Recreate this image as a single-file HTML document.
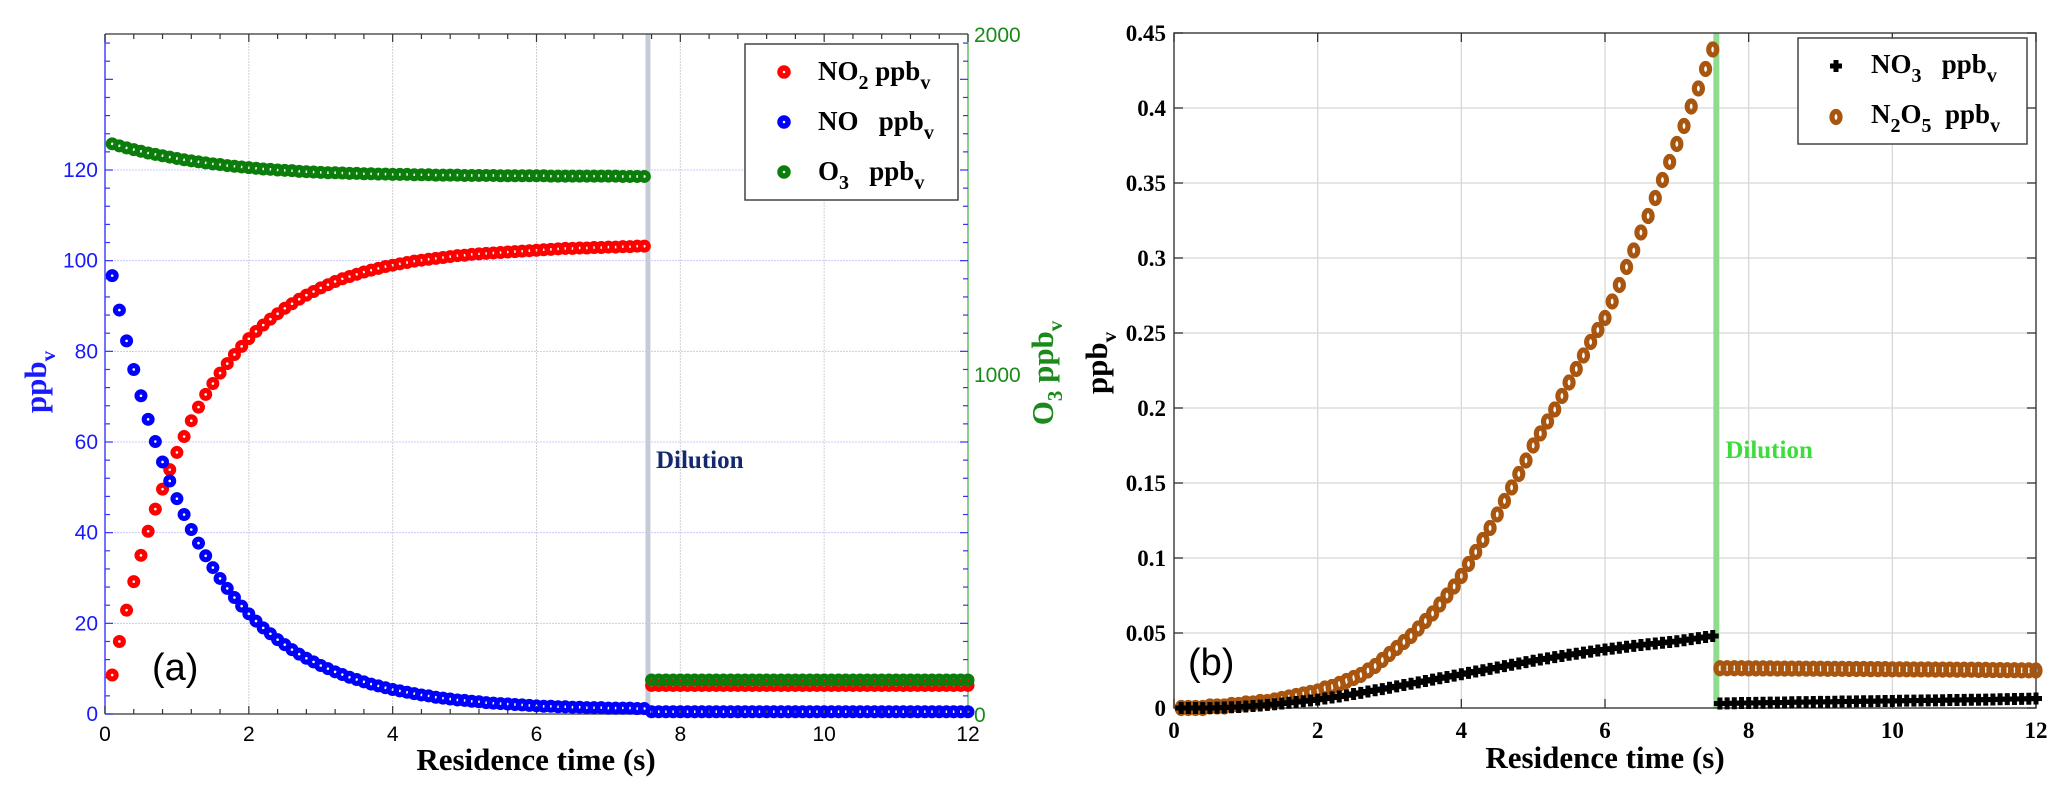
<!DOCTYPE html>
<html><head><meta charset="utf-8"><style>
html,body{margin:0;padding:0;background:#fff;}
svg{display:block;}
</style></head><body>
<svg id="fig" width="2067" height="796" xmlns="http://www.w3.org/2000/svg">
<g id="pa"></g>
<g id="pb"></g>
</svg>
<script>
// ---------- Panel (a) data ----------
const a_time_step = 0.1;
const a_no = [96.7,89.1,82.3,76.0,70.2,65.0,60.1,55.6,51.4,47.5,44.0,40.7,37.7,34.9,32.3,29.9,27.7,25.7,23.8,22.1,20.5,19.0,17.7,16.4,15.3,14.2,13.2,12.3,11.5,10.7,10.0,9.3,8.7,8.1,7.6,7.1,6.6,6.2,5.8,5.4,5.1,4.8,4.5,4.2,4.0,3.7,3.5,3.3,3.1,3.0,2.8,2.7,2.5,2.4,2.3,2.2,2.1,2.0,1.9,1.8,1.7,1.7,1.6,1.6,1.5,1.5,1.4,1.4,1.4,1.3,1.3,1.3,1.3,1.2,1.2];
const a_no2 = [8.6,16.0,22.9,29.2,35.0,40.3,45.2,49.6,53.9,57.7,61.2,64.7,67.7,70.5,72.9,75.2,77.3,79.3,81.1,82.8,84.4,85.8,87.1,88.3,89.5,90.5,91.5,92.4,93.2,94.0,94.7,95.4,96.0,96.5,97.0,97.5,97.9,98.3,98.7,99.0,99.3,99.6,99.9,100.1,100.3,100.5,100.7,100.9,101.1,101.2,101.4,101.5,101.6,101.7,101.8,101.9,102.0,102.1,102.2,102.3,102.4,102.5,102.6,102.7,102.7,102.8,102.8,102.9,102.9,103.0,103.0,103.1,103.1,103.2,103.2];
const a_o3 = [1677,1671,1665,1660,1655,1650,1646,1642,1638,1634,1630,1627,1624,1621,1618,1616,1613,1611,1609,1607,1605,1603,1602,1600,1599,1598,1596,1595,1594,1593,1592,1592,1591,1590,1590,1589,1589,1588,1588,1587,1587,1587,1586,1586,1586,1585,1585,1585,1585,1584,1584,1584,1584,1584,1583,1583,1583,1583,1583,1583,1583,1582,1582,1582,1582,1582,1582,1582,1582,1582,1582,1581,1581,1581,1581];
const a_post_start = 7.6;
const a_post_no2 = [6.3,6.3,6.3,6.3,6.3,6.3,6.3,6.3,6.3,6.3,6.3,6.3,6.3,6.3,6.3,6.3,6.3,6.3,6.3,6.3,6.3,6.3,6.3,6.3,6.3,6.3,6.3,6.3,6.3,6.3,6.3,6.3,6.3,6.3,6.3,6.3,6.3,6.3,6.3,6.3,6.3,6.3,6.3,6.3,6.3];
const a_post_no = [0.5,0.5,0.5,0.5,0.5,0.5,0.5,0.5,0.5,0.5,0.5,0.5,0.5,0.5,0.5,0.5,0.5,0.5,0.5,0.5,0.5,0.5,0.5,0.5,0.5,0.5,0.5,0.5,0.5,0.5,0.5,0.5,0.5,0.5,0.5,0.5,0.5,0.5,0.5,0.5,0.5,0.5,0.5,0.5,0.5];
const a_post_o3 = [100,100,100,100,100,100,100,100,100,100,100,100,100,100,100,100,100,100,100,100,100,100,100,100,100,100,100,100,100,100,100,100,100,100,100,100,100,100,100,100,100,100,100,100,100];
const a_xticks = [0,2,4,6,8,10,12];
const a_yticks = [0,20,40,60,80,100,120];
const a_y2ticks = [0,1000,2000];
const a_dilution = 7.55;

// ---------- Panel (b) data ----------
const b_time_step = 0.1;
const b_n2o5 = [0,0,0,0,0.001,0.001,0.001,0.002,0.002,0.003,0.003,0.004,0.004,0.005,0.006,0.007,0.008,0.009,0.010,0.011,0.013,0.014,0.016,0.018,0.020,0.022,0.025,0.028,0.032,0.036,0.040,0.044,0.048,0.053,0.058,0.063,0.069,0.075,0.081,0.088,0.096,0.104,0.112,0.120,0.129,0.138,0.147,0.156,0.165,0.175,0.183,0.191,0.199,0.208,0.217,0.226,0.235,0.244,0.252,0.260,0.271,0.282,0.294,0.305,0.317,0.328,0.340,0.352,0.364,0.376,0.388,0.401,0.413,0.426,0.439];
const b_no3 = [0,0,0,0,0,0.0002,0.0003,0.0005,0.0007,0.001,0.0013,0.0017,0.0021,0.0025,0.003,0.0035,0.004,0.0045,0.005,0.0056,0.0063,0.007,0.0077,0.0085,0.0093,0.0101,0.011,0.0118,0.0126,0.0135,0.0144,0.0153,0.0162,0.0171,0.018,0.0189,0.0198,0.0207,0.0216,0.0225,0.0234,0.0243,0.0252,0.0261,0.027,0.0279,0.0288,0.0297,0.0306,0.0315,0.0323,0.0331,0.0339,0.0347,0.0355,0.0362,0.0369,0.0376,0.0383,0.039,0.0396,0.0402,0.0408,0.0414,0.042,0.0425,0.043,0.0435,0.044,0.0445,0.0452,0.0459,0.0466,0.0473,0.048];
const b_post_start = 7.6;
const b_post_n2o5 = [0.0265,0.0265,0.0265,0.0265,0.0264,0.0264,0.0264,0.0264,0.0263,0.0263,0.0263,0.0263,0.0262,0.0262,0.0262,0.0261,0.0261,0.0261,0.0260,0.0260,0.0260,0.0259,0.0259,0.0259,0.0258,0.0258,0.0258,0.0257,0.0257,0.0257,0.0256,0.0256,0.0256,0.0255,0.0255,0.0255,0.0254,0.0254,0.0253,0.0253,0.0252,0.0252,0.0251,0.0251,0.0250];
const b_post_no3 = [0.0030,0.0031,0.0032,0.0033,0.0033,0.0034,0.0035,0.0036,0.0036,0.0037,0.0038,0.0039,0.0039,0.0040,0.0041,0.0041,0.0042,0.0043,0.0043,0.0044,0.0045,0.0045,0.0046,0.0047,0.0047,0.0048,0.0049,0.0049,0.0050,0.0051,0.0051,0.0052,0.0053,0.0053,0.0054,0.0055,0.0055,0.0056,0.0057,0.0058,0.0059,0.0060,0.0061,0.0062,0.0063];
const b_xticks = [0,2,4,6,8,10,12];
const b_yticks = [0,0.05,0.1,0.15,0.2,0.25,0.3,0.35,0.4,0.45];
const b_dilution = 7.55;

const NS = 'http://www.w3.org/2000/svg';
function mk(parent, tag, attrs, text){
  const e = document.createElementNS(NS, tag);
  for (const k in attrs) e.setAttribute(k, attrs[k]);
  if (text !== undefined) e.textContent = text;
  parent.appendChild(e);
  return e;
}

// ================= Panel A =================
(function(){
  const g = document.getElementById('pa');
  const L=105, R=968, T=34, B=714;
  const xs = t => L + (t/12)*(R-L);
  const ys = v => B - (v/150)*(B-T);
  const ys2 = v => B - (v/2000)*(B-T);
  a_xticks.forEach(t=>{ if(t>0 && t<12){
    const l = mk(g,'line',{x1:xs(t),x2:xs(t),y1:T,y2:B,stroke:'#d0d0d0','stroke-width':1,'stroke-dasharray':'2,1'});
     
  }});
  a_yticks.forEach(v=>{ if(v>0){
    const l = mk(g,'line',{x1:L,x2:R,y1:ys(v),y2:ys(v),stroke:'#c8c8ff','stroke-width':1,'stroke-dasharray':'2,1'});
     
  }});
  const dl = mk(g,'rect',{x:xs(a_dilution)-2.5,y:T,width:5,height:B-T,fill:'#c5cbd8'});
   
  const dt = mk(g,'text',{x:xs(a_dilution)+8,y:468,'font-family':'Liberation Serif, serif','font-weight':'bold','font-size':25,fill:'#14286e'},'Dilution');
   
  mk(g,'line',{x1:L,x2:R,y1:T,y2:T,stroke:'#555','stroke-width':1.5});
  mk(g,'line',{x1:L,x2:R,y1:B,y2:B,stroke:'#555','stroke-width':1.5});
  mk(g,'line',{x1:L,x2:L,y1:T,y2:B,stroke:'#4444ff','stroke-width':1.5});
  mk(g,'line',{x1:R,x2:R,y1:T,y2:B,stroke:'#66bb66','stroke-width':1.5});
  for(let i=0;i<=30;i++){ const t=i*0.4; const big=(i%5===0);
    mk(g,'line',{x1:xs(t),x2:xs(t),y1:B,y2:B-(big?8:5),stroke:'#333','stroke-width':1.2});
    mk(g,'line',{x1:xs(t),x2:xs(t),y1:T,y2:T+(big?8:5),stroke:'#333','stroke-width':1.2});
  }
  for(let v=0; v<=150; v+=4){ const big=(v%20===0);
    mk(g,'line',{x1:L,x2:L+(big?8:5),y1:ys(v),y2:ys(v),stroke:'#3333ff','stroke-width':1.2});
    mk(g,'line',{x1:R,x2:R-(big?8:5),y1:ys(v),y2:ys(v),stroke:'#3333ff','stroke-width':1.2});
  }
  a_xticks.forEach(t=>{
    const e = mk(g,'text',{x:xs(t),y:741,'text-anchor':'middle','font-family':'Liberation Sans, sans-serif','font-size':21,fill:'#000'},String(t));
     
  });
  a_yticks.forEach(v=>{
    const e = mk(g,'text',{x:L-7,y:ys(v)+7,'text-anchor':'end','font-family':'Liberation Sans, sans-serif','font-size':21,fill:'#1a1aff'},String(v));
     
  });
  a_y2ticks.forEach(v=>{
    const e = mk(g,'text',{x:R+6,y:ys2(v)+8,'font-family':'Liberation Sans, sans-serif','font-size':21,fill:'#1a8a1a'},String(v));
     
  });
  let e = mk(g,'text',{x:536,y:770,'text-anchor':'middle','font-family':'Liberation Serif, serif','font-weight':'bold','font-size':31,fill:'#000'},'Residence time (s)');
   
  e = mk(g,'text',{transform:'translate(46,382) rotate(-90)','text-anchor':'middle','font-family':'Liberation Serif, serif','font-weight':'bold','font-size':31,fill:'#1a1aff'});
  e.innerHTML = 'ppb<tspan dy="9" font-size="21">v</tspan>';
   
  e = mk(g,'text',{transform:'translate(1053,373) rotate(-90)','text-anchor':'middle','font-family':'Liberation Serif, serif','font-weight':'bold','font-size':31,fill:'#1a8a1a'});
  e.innerHTML = 'O<tspan dy="9" font-size="21">3</tspan><tspan dy="-9"> ppb</tspan><tspan dy="9" font-size="21">v</tspan>';
   
  e = mk(g,'text',{x:152,y:680,'font-family':'Liberation Sans, sans-serif','font-size':38,fill:'#000'},'(a)');
   
  function ring(t,y,color,name){
    const c = mk(g,'circle',{cx:xs(t),cy:y,r:3.9,fill:'none',stroke:color,'stroke-width':5.2});
     
  }
  a_o3.forEach((v,i)=>ring(a_time_step*(i+1), ys2(v), '#0a7d0a','o3-point'));
  a_no2.forEach((v,i)=>ring(a_time_step*(i+1), ys(v), '#ff0000','no2-point'));
  a_no.forEach((v,i)=>ring(a_time_step*(i+1), ys(v), '#0000ff','no-point'));
  a_post_no.forEach((v,i)=>ring(a_post_start+a_time_step*i, ys(v), '#0000ff','no-point-diluted'));
  a_post_no2.forEach((v,i)=>ring(a_post_start+a_time_step*i, ys(v), '#ff0000','no2-point-diluted'));
  a_post_o3.forEach((v,i)=>ring(a_post_start+a_time_step*i, ys2(v), '#0a7d0a','o3-point-diluted'));
  const lg = mk(g,'g',{});
   
  mk(lg,'rect',{x:745,y:44,width:213,height:156,fill:'#fff',stroke:'#444','stroke-width':1.5});
  const ent = [['#ff0000','NO<tspan dy="9" font-size="20">2</tspan><tspan dy="-9"> ppb</tspan><tspan dy="9" font-size="20">v</tspan>',72],
               ['#0000ff','NO&#160;&#160; ppb<tspan dy="9" font-size="20">v</tspan>',122],
               ['#0a7d0a','O<tspan dy="9" font-size="20">3</tspan><tspan dy="-9">&#160;&#160; ppb</tspan><tspan dy="9" font-size="20">v</tspan>',172]];
  ent.forEach(en=>{
    const it = mk(lg,'g',{});
     
    mk(it,'circle',{cx:784,cy:en[2],r:4,fill:'none',stroke:en[0],'stroke-width':5.5});
    const tx = mk(it,'text',{x:818,y:en[2]+8,'font-family':'Liberation Serif, serif','font-weight':'bold','font-size':27,fill:'#000'});
    tx.innerHTML = en[1];
  });
})();

// ================= Panel B =================
(function(){
  const g = document.getElementById('pb');
  const L=1174, R=2036, T=33, B=708;
  const xs = t => L + (t/12)*(R-L);
  const ys = v => B - (v/0.45)*(B-T);
  b_xticks.forEach(t=>{ if(t>0&&t<12){
    const l = mk(g,'line',{x1:xs(t),x2:xs(t),y1:T,y2:B,stroke:'#d8d8d8','stroke-width':1.3});
     
  }});
  b_yticks.forEach(v=>{ if(v>0&&v<0.45){
    const l = mk(g,'line',{x1:L,x2:R,y1:ys(v),y2:ys(v),stroke:'#d8d8d8','stroke-width':1.3});
     
  }});
  const dl = mk(g,'rect',{x:xs(b_dilution)-3,y:T,width:6,height:B-T,fill:'#8fdc8f'});
   
  let e = mk(g,'text',{x:xs(b_dilution)+9,y:458,'font-family':'Liberation Serif, serif','font-weight':'bold','font-size':25,fill:'#3ddc3d'},'Dilution');
   
  mk(g,'rect',{x:L,y:T,width:R-L,height:B-T,fill:'none',stroke:'#444','stroke-width':1.5});
  b_xticks.forEach(t=>{
    mk(g,'line',{x1:xs(t),x2:xs(t),y1:B,y2:B-9,stroke:'#333','stroke-width':1.3});
    mk(g,'line',{x1:xs(t),x2:xs(t),y1:T,y2:T+9,stroke:'#333','stroke-width':1.3});
    const tx = mk(g,'text',{x:xs(t),y:738,'text-anchor':'middle','font-family':'Liberation Serif, serif','font-weight':'bold','font-size':23,fill:'#000'},String(t));
     
  });
  b_yticks.forEach(v=>{
    mk(g,'line',{x1:L,x2:L+9,y1:ys(v),y2:ys(v),stroke:'#333','stroke-width':1.3});
    mk(g,'line',{x1:R,x2:R-9,y1:ys(v),y2:ys(v),stroke:'#333','stroke-width':1.3});
    const tx = mk(g,'text',{x:L-8,y:ys(v)+8,'text-anchor':'end','font-family':'Liberation Serif, serif','font-weight':'bold','font-size':23,fill:'#000'},String(v));
     
  });
  e = mk(g,'text',{x:1605,y:768,'text-anchor':'middle','font-family':'Liberation Serif, serif','font-weight':'bold','font-size':31,fill:'#000'},'Residence time (s)');
   
  e = mk(g,'text',{transform:'translate(1107,363) rotate(-90)','text-anchor':'middle','font-family':'Liberation Serif, serif','font-weight':'bold','font-size':31,fill:'#000'});
  e.innerHTML = 'ppb<tspan dy="9" font-size="21">v</tspan>';
   
  e = mk(g,'text',{x:1188,y:675,'font-family':'Liberation Sans, sans-serif','font-size':38,fill:'#000'},'(b)');
   
  const BR = '#a8560f';
  function dia(t,v,name){
    const c = mk(g,'ellipse',{cx:xs(t),cy:ys(v),rx:4,ry:5.5,fill:'none',stroke:BR,'stroke-width':5.2});
     
  }
  function plus(t,v,name){
    const p = mk(g,'path',{d:`M${xs(t)-6},${ys(v)}h12M${xs(t)},${ys(v)-6}v12`,stroke:'#000','stroke-width':5});
     
  }
  b_n2o5.forEach((v,i)=>dia(b_time_step*(i+1),v,'n2o5-point'));
  b_no3.forEach((v,i)=>plus(b_time_step*(i+1),v,'no3-point'));
  b_post_no3.forEach((v,i)=>plus(b_post_start+b_time_step*i,v,'no3-point-diluted'));
  b_post_n2o5.forEach((v,i)=>dia(b_post_start+b_time_step*i,v,'n2o5-point-diluted'));
  const lg = mk(g,'g',{});
   
  mk(lg,'rect',{x:1798,y:38,width:229,height:106,fill:'#fff',stroke:'#444','stroke-width':1.5});
  let it = mk(lg,'g',{});
   
  mk(it,'path',{d:'M1830,66h12M1836,60v12',stroke:'#000','stroke-width':5});
  let tx = mk(it,'text',{x:1871,y:73,'font-family':'Liberation Serif, serif','font-weight':'bold','font-size':27,fill:'#000'});
  tx.innerHTML = 'NO<tspan dy="9" font-size="20">3</tspan><tspan dy="-9">&#160;&#160; ppb</tspan><tspan dy="9" font-size="20">v</tspan>';
  it = mk(lg,'g',{});
   
  mk(it,'ellipse',{cx:1836,cy:117,rx:4,ry:5.5,fill:'none',stroke:BR,'stroke-width':5.2});
  tx = mk(it,'text',{x:1871,y:123,'font-family':'Liberation Serif, serif','font-weight':'bold','font-size':27,fill:'#000'});
  tx.innerHTML = 'N<tspan dy="9" font-size="20">2</tspan><tspan dy="-9">O</tspan><tspan dy="9" font-size="20">5</tspan><tspan dy="-9">&#160; ppb</tspan><tspan dy="9" font-size="20">v</tspan>';
})();
</script>
</body></html>
